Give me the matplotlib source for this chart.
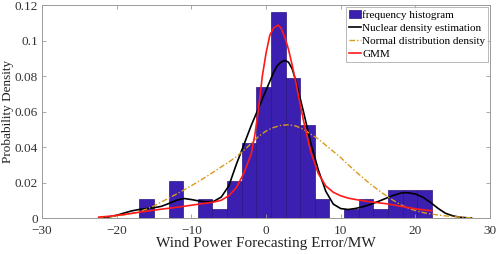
import numpy as np
import matplotlib
matplotlib.use("Agg")
import matplotlib.pyplot as plt

plt.rcParams["font.family"] = ["Liberation Serif", "DejaVu Serif"]

# histogram: 20 equal bins between the error extremes
bin_lo, bin_hi = -16.96, 22.18
bin_counts = [2, 0, 4, 0, 2, 1, 4, 8, 14, 22, 15, 10, 2, 0, 1, 2, 1, 3, 3, 3]

# kernel density estimate
kde_x = [-22.4, -21, -20, -19, -18, -17, -16, -15, -14, -13, -12, -11, -10, -9, -8, -7,
         -6, -5, -4, -3, -2, -1, 0, 1, 1.5, 2, 2.5, 3, 3.5, 4, 5, 6, 7, 8, 9, 10, 11, 12,
         13, 14, 15, 16, 17, 18, 18.6, 19, 20, 21, 22, 23, 24, 25, 26, 27, 27.5]
kde_y = [0.0, 0.0006, 0.0015, 0.0028, 0.0040, 0.0048, 0.0053, 0.0058, 0.0066, 0.0082,
         0.0100, 0.0110, 0.0104, 0.0096, 0.0091, 0.0094, 0.0118, 0.0180, 0.0300, 0.0410,
         0.0520, 0.0620, 0.0720, 0.0820, 0.0858, 0.0878, 0.0888, 0.0878, 0.0840, 0.0770,
         0.0600, 0.0420, 0.0270, 0.0150, 0.0078, 0.0053, 0.0048, 0.0054, 0.0064, 0.0077,
         0.0093, 0.0110, 0.0127, 0.0140, 0.0143, 0.0142, 0.0135, 0.0117, 0.0088, 0.0055,
         0.0027, 0.0012, 0.0004, 0.0001, 0.0]

# fitted normal density
norm_x = [-22.5, -21, -20, -19, -18, -17, -16, -15, -14, -13, -12, -11, -10, -9, -8, -7,
          -6, -5, -4, -3, -2, -1, 0, 1, 2, 3, 4, 5, 6, 7, 8, 9, 10, 11, 12, 13, 14, 15,
          16, 17, 18, 19, 20, 21, 22, 23, 24, 25, 26, 27, 27.7]
norm_y = [0.0003, 0.0007, 0.0011, 0.0017, 0.0025, 0.0036, 0.0050, 0.0068, 0.0090, 0.0113,
          0.0135, 0.0158, 0.0182, 0.0207, 0.0233, 0.0260, 0.0288, 0.0315, 0.0345, 0.0380,
          0.0420, 0.0460, 0.0490, 0.0510, 0.0522, 0.0525, 0.0518, 0.0500, 0.0472, 0.0445,
          0.0410, 0.0375, 0.0340, 0.0300, 0.0262, 0.0225, 0.0190, 0.0158, 0.0128, 0.0100,
          0.0075, 0.0056, 0.0042, 0.0031, 0.0023, 0.0017, 0.0012, 0.0008, 0.0005, 0.0002,
          0.0]

# gaussian mixture model density
gmm_x = [-22.4, -21, -20, -19, -18, -17, -16, -15, -14, -13, -12, -11, -10, -9, -8, -7,
         -6, -5, -4, -3, -2, -1.5, -1, -0.5, 0, 0.5, 1, 1.6, 2, 2.5, 3, 3.5, 4, 5, 6, 7,
         8, 9, 10, 11, 12, 13, 14, 15, 16, 17, 18, 19, 20, 21, 22.2]
gmm_y = [0.0005, 0.0010, 0.0015, 0.0020, 0.0026, 0.0032, 0.0038, 0.0044, 0.0050, 0.0055,
         0.0060, 0.0066, 0.0072, 0.0078, 0.0084, 0.0090, 0.0100, 0.0125, 0.0170, 0.0250,
         0.0360, 0.0470, 0.0620, 0.0800, 0.0930, 0.1030, 0.1070, 0.1087, 0.1070, 0.1020,
         0.0950, 0.0860, 0.0760, 0.0550, 0.0370, 0.0250, 0.0180, 0.0145, 0.0125, 0.0112,
         0.0104, 0.0097, 0.0091, 0.0086, 0.0081, 0.0074, 0.0066, 0.0059, 0.0052, 0.0046,
         0.0041]

counts = np.array(bin_counts, dtype=float)
edges = np.linspace(bin_lo, bin_hi, len(bin_counts) + 1)
width = edges[1] - edges[0]
density = counts / (counts.sum() * width)

fig = plt.figure(figsize=(4.98, 2.54), dpi=100)
ax = fig.add_axes([0.0843, 0.1417, 0.9000, 0.8386])

h_bar = ax.bar(edges[:-1], density, width=width, align="edge", color="#3B1FB0",
               edgecolor="#2A157F", linewidth=0.5, label="frequency histogram")
h_kde, = ax.plot(kde_x, kde_y, color="black", lw=1.2, label="Nuclear density estimation")
h_norm, = ax.plot(norm_x, norm_y, color="#D99A1E", lw=1.0, dashes=(4, 1.5, 1, 1.5),
                  label="Normal distribution density")
h_gmm, = ax.plot(gmm_x, gmm_y, color="#FF1A1A", lw=1.2, label="GMM")

ax.set_xlim(-30, 30)
ax.set_ylim(0, 0.12)
ax.set_xticks(range(-30, 31, 10))
ax.set_yticks([0, 0.02, 0.04, 0.06, 0.08, 0.1, 0.12])
ax.set_yticklabels(["0", "0.02", "0.04", "0.06", "0.08", "0.1", "0.12"])
ax.tick_params(direction="in", length=3, width=0.6, top=True, right=True,
               labelsize=9.5, colors="#9a9a9a", labelcolor="#333333")
ax.tick_params(axis="x", pad=5)
ax.tick_params(axis="y", pad=3)
for sp in ax.spines.values():
    sp.set_color("#9a9a9a")
    sp.set_linewidth(0.7)

ax.set_xlabel("Wind Power Forecasting Error/MW", fontsize=11, color="#222222", labelpad=0)
ax.set_ylabel("Probability Density", fontsize=9.5, color="#222222")
ax.yaxis.set_label_coords(-0.062, 0.5)

leg = ax.legend([h_bar, h_kde, h_norm, h_gmm],
                ["frequency histogram", "Nuclear density estimation",
                 "Normal distribution density", "GMM"],
                loc="upper right", fontsize=8, frameon=True, fancybox=False,
                handlelength=1.1, handletextpad=0.1, borderpad=0.25, labelspacing=0.3,
                borderaxespad=0.2, edgecolor="#9a9a9a")
leg.get_frame().set_linewidth(0.6)

fig.savefig("out.png", dpi=100)
